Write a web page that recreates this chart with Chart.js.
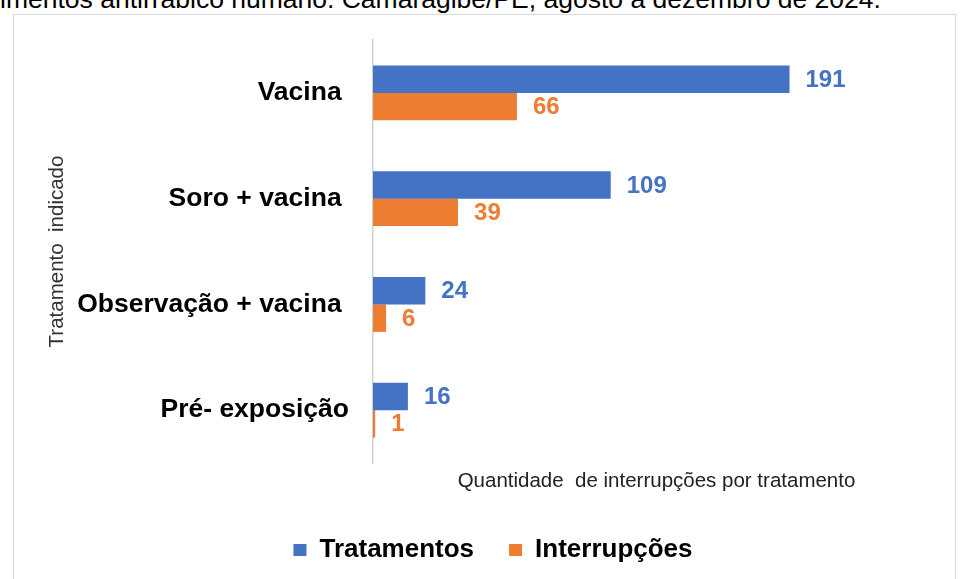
<!DOCTYPE html>
<html lang="pt-BR">
<head>
<meta charset="utf-8">
<script src="https://cdn.jsdelivr.net/npm/chart.js@4.4.1/dist/chart.umd.min.js"></script>
<style>
  html, body { margin: 0; padding: 0; background: #fff; overflow: hidden; }
  #caption {
    position: absolute; left: 0; top: -16px; white-space: nowrap; line-height: 30px;
    font-family: "Liberation Sans", Arial, sans-serif; font-size: 26.5px; color: #000;
  }
  #frame {
    position: absolute; left: 13px; top: 14px; width: 943px; height: 600px;
    border: 1px solid #d9d9d9; box-sizing: border-box;
  }
  #wrap { position: absolute; left: 0; top: 0; width: 960px; height: 579px; }
</style>
</head>
<body>
<div id="caption">imentos antirrábico humano. Camaragibe/PE, agosto a dezembro de 2024.</div>
<div id="frame"></div>
<div id="wrap"><canvas id="grafico"></canvas></div>
<script>
// Categorias e valores
const categorias = ['Vacina ', 'Soro + vacina ', 'Observação + vacina ', 'Pré- exposição'];
const tratamentos = [191, 109, 24, 16];
const interrupcoes = [66, 39, 6, 1];

const AZUL = '#4472C4';
const LARANJA = '#ED7D31';
const FONTE = '"Liberation Sans", Arial, sans-serif';

// Rótulos de valor à direita das barras
const rotulosValor = {
    id: 'rotulosValor',
    afterDatasetsDraw(chart) {
        const ctx = chart.ctx;
        ctx.save();
        ctx.font = 'bold 24px ' + FONTE;
        ctx.textAlign = 'left';
        ctx.textBaseline = 'middle';
        chart.data.datasets.forEach((ds, i) => {
            const meta = chart.getDatasetMeta(i);
            ctx.fillStyle = ds.backgroundColor;
            meta.data.forEach((barra, j) => {
                ctx.fillText(ds.data[j], barra.x + 16, barra.y + 1);
            });
        });
        ctx.restore();
    }
};

const ctx = document.getElementById('grafico').getContext('2d');
new Chart(ctx, {
    type: 'bar',
    data: {
        labels: categorias,
        datasets: [
            { label: 'Tratamentos', data: tratamentos, backgroundColor: AZUL },
            { label: 'Interrupções', data: interrupcoes, backgroundColor: LARANJA }
        ]
    },
    options: {
        indexAxis: 'y',
        responsive: true,
        maintainAspectRatio: false,
        animation: false,
        categoryPercentage: 0.52,
        barPercentage: 1.0,
        layout: { padding: { top: 40, left: 46, right: 20, bottom: 6 } },
        plugins: {
            tooltip: { enabled: false },
            legend: {
                position: 'bottom',
                labels: {
                    boxWidth: 13,
                    boxHeight: 12,
                    padding: 35,
                    color: '#000',
                    font: { family: FONTE, size: 26, weight: 'bold' }
                }
            }
        },
        scales: {
            x: {
                min: 0,
                max: 260,
                ticks: { display: false },
                grid: { display: false, drawTicks: false },
                border: { display: false },
                title: {
                    display: true,
                    text: 'Quantidade  de interrupções por tratamento',
                    color: '#222',
                    padding: { top: 0, bottom: 8 },
                    font: { family: FONTE, size: 20.5 }
                },
                afterFit(scale) { scale.height = 39; }
            },
            y: {
                grid: { display: false, drawTicks: false },
                border: { display: true, color: '#d0d0d0', width: 1.5 },
                ticks: {
                    color: '#000',
                    padding: 24,
                    font: { family: FONTE, size: 26.5, weight: 'bold' }
                },
                title: {
                    display: true,
                    text: 'Tratamento  indicado',
                    color: '#333',
                    padding: { top: -1, bottom: 0 },
                    font: { family: FONTE, size: 20.5 }
                },
                afterFit(scale) { scale.width = 327; }
            }
        }
    },
    plugins: [rotulosValor]
});
</script>
</body>
</html>
